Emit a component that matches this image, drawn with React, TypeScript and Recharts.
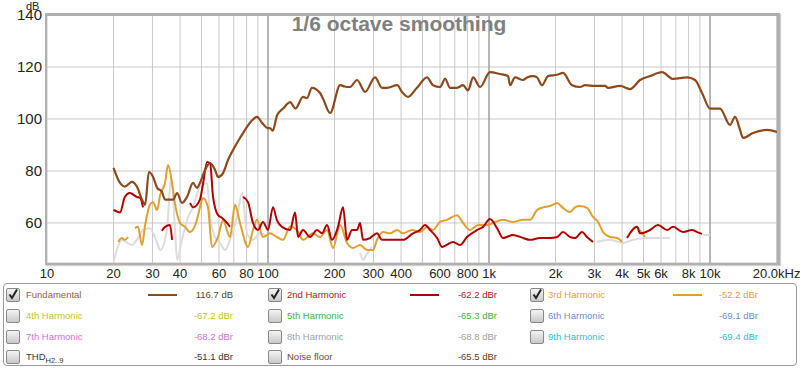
import React from 'react';
import { LineChart, Line, XAxis, YAxis, CartesianGrid, ReferenceLine } from 'recharts';

// Frequencies (Hz) and levels (dB)
const fundFreq = [20, 21.4, 22.5, 24.2, 25.5, 26.9, 27.8, 28.9, 30.2, 31.5, 33.1, 34.2, 37.2, 38.8, 40.8, 43.0, 45.8, 47.7, 49.2, 51.9, 54.7, 57.6, 59.4, 62.6, 65.9, 69.4, 74.7, 80.4, 84.7, 89.2, 94, 100, 102, 105, 110, 117, 126, 133, 144, 150, 158, 172, 177, 191, 212, 222, 235, 253, 275, 305, 328, 346, 384, 404, 430, 472, 524, 558, 600, 633, 666, 717, 763, 804, 847, 911, 1010, 1121, 1219, 1245, 1311, 1425, 1486, 1582, 1649, 1737, 1849, 2032, 2161, 2375, 2581, 2719, 3017, 3349, 3455, 3915, 4345, 4824, 5351, 6065, 6803, 7869, 8553, 9202, 10000, 11096, 12315, 12978, 13670, 14105, 15655, 18113, 20106];
const fundDb = [81.2, 75.4, 74, 75.8, 74, 69, 67, 79.6, 77.7, 73.5, 72, 69, 69, 71.5, 67.7, 70, 75.4, 73.5, 75.4, 80.4, 83, 80.4, 77.7, 79.2, 84.2, 88, 92.7, 97, 99.5, 100.8, 98.5, 96.5, 96.5, 95.5, 101.5, 104, 106.5, 104, 108.5, 108, 112, 110, 108, 102.3, 113, 112.5, 112.3, 115, 110.4, 116, 112, 112, 113, 110.4, 108.5, 112, 116, 113, 112.3, 115.4, 112, 112, 113, 111, 116, 112.3, 118, 117.3, 116.5, 113, 116, 115, 116, 116.5, 116, 113, 116.5, 117, 117.7, 113, 112.3, 113, 112.7, 112.7, 112, 112.7, 111.5, 115, 116.5, 118, 115.4, 116, 115, 110, 104, 104, 97.7, 100.8, 95.8, 92.7, 94.6, 95.8, 95];

const h2Freq = [20, 21.4, 22.5, 23.7, 25.5, 26.4, 27.2, 30, 33.1, 34.2, 36, 36.8, 40, 44.4, 45.8, 49.2, 50.8, 53, 54.7, 56.4, 59.4, 61.9, 65.2, 67.3, 72, 77.1, 81.2, 85.5, 90.1, 94.9, 100, 105.3, 109.8, 115.7, 125.8, 132.6, 136.7, 144, 154.9, 166.7, 175.5, 184.9, 194.9, 207.4, 218.5, 227.8, 239.9, 252.7, 260.9, 269.1, 289.4, 311.3, 328, 356.5, 408, 453, 487, 513, 541, 582, 613, 687, 739, 795, 883, 940, 1010, 1087, 1157, 1284, 1425, 1533, 1701, 1888, 2032, 2161, 2326, 2449, 2635, 2775, 2955, 3500, 4211, 4675, 4824, 5351, 5817, 6389, 6803, 7548, 8293, 8735, 9202];
const h2Db = [65, 64, 70, 71.5, 70, 69.6, 66, null, 57, 58.5, 59.2, 53.5, null, 67.7, 66, 69, 75, 83.5, 83, 70, 63, 62, 60, 58.5, null, 70, 68, 60, 57.3, 60.4, 57.3, 66, 61, 58.5, 57.3, 64, 54.6, 57.3, 54.6, 57.3, 56, 59.2, 53.5, 58.5, 66, 53.5, 57.3, 57.3, 60, 53.5, 54.2, 56, 53.5, 53.5, 53.5, 56, 57.3, 59.2, 57.3, 54.2, 50.8, 52.7, 51.5, 54.6, 57.3, 58.5, 61.5, 58, 54.2, 55.4, 54.2, 53.5, 54.2, 54.2, 54.6, 56.5, 54.6, 54.2, 56.5, 54.6, 52.7, null, 54.2, 58.5, 56, 57.3, 59.2, 57.3, 58.5, 56.5, 57.3, 56.5, 55.8];

const h3Freq = [21, 21.8, 22.5, 23.3, 24.2, 25, 25.8, 26.9, 27.8, 29.2, 30.2, 31.5, 32.5, 34.2, 35.3, 36.8, 37.9, 40, 42.1, 44.4, 47.7, 49.2, 50.8, 53.5, 55.8, 59.4, 62.6, 67.3, 70.9, 74.7, 81.2, 85.5, 89.2, 94.9, 102, 109.8, 116.9, 125.8, 135.3, 144, 159.8, 172, 184.9, 196.9, 211.8, 227.8, 242.4, 260.9, 280.5, 298.6, 311.3, 331.4, 356.5, 383.6, 408.3, 448.4, 487.4, 524.3, 558, 600, 645.6, 716.5, 762.6, 820, 892, 980, 1043, 1157, 1284, 1425, 1533, 1649, 1756, 1888, 2032, 2161, 2326, 2449, 2581, 2775, 2955, 3113, 3280, 3528, 3795, 3998, 4400, 4675, 5080];
const h3Db = [52.7, 54.2, 53.5, 54.6, null, 58, 58.5, 51.5, 59.2, 67, 68, 65, 70.8, 75.4, 82.3, 75.4, 67.7, 60, 58.5, 56.5, 61.2, 66, 69.6, 66, 50.8, 54.6, 61, 54.6, 67, 60, 50.8, 57.3, 61.2, 54.6, 56, 54.6, 53.5, 58.5, 57.3, 53.5, 56, 54.6, 57.3, 50.4, 59.2, 52.3, 50.4, 51.5, 49.6, 49.6, 53.5, 56.5, 56, 57.3, 56, 57.3, 56.5, 58.5, 57.3, 60.4, 61.2, 63, 60, 57.3, 59.2, 59.2, 60, 61.2, 60.4, 61.2, 61.2, 65, 66, 66.5, 67.7, 65.8, 64.2, 66, 66.5, 65.8, 62.3, 60.4, 56.5, 54.6, 54.2, 52.7, null, 58.5, 54.6];

const fadedFreq = [20, 20.7, 21.8, 24.2, 25.5, 27.2, 29.2, 31.5, 32.5, 34.9, 36.4, 37.9, 38.8, 40.8, 43.5, 45.8, 49.2, 53, 54.7, 57.6, 60.7, 63.9, 67.3, 72.4, 76.3, 80.4, 85.5, 92, 99, 104, 260.9, 269.1, 280, 295.5, 1000, 3080, 3528, 4040, 4483, 5187, 5757, 6592, 8000, 9297, 10000];
const fadedDb = [45, 49.6, 53.5, 51.5, 53.5, 57.3, 58, 52.3, 49.6, 57.3, 77.7, 58.5, 45.8, 53.5, 62.3, 66, 74, 75.4, 62.3, 54.6, 52.3, 49.6, 53.5, 62.3, 71.5, 56, 53.5, 56, 54.6, null, 48.5, 45.8, 48, 50.8, null, 52.7, 53.5, 52.3, 53.5, 54.2, 54.2, 54.2, null, 55.4, 55.4];

const xTicks = [10, 20, 30, 40, 50, 60, 70, 80, 90, 100, 200, 300, 400, 500, 600, 700, 800, 900, 1000, 2000, 3000, 4000, 5000, 6000, 7000, 8000, 9000, 10000, 20000];
const xTickLabels = ['10', '20', '30', '40', '', '60', '', '80', '', '100', '200', '300', '400', '', '600', '', '800', '', '1k', '2k', '3k', '4k', '5k', '6k', '', '8k', '', '10k', '20.0kHz'];
const yTicks = [60, 80, 100, 120, 140];

const legendRows = [
  [
    { name: 'Fundamental', value: '116.7 dB', color: '#94603c', vcolor: '#5a3e2a', checked: true, line: '#8c4a1c' },
    { name: '2nd Harmonic', value: '-62.2 dBr', color: '#a82020', vcolor: '#a82020', checked: true, line: '#b00000' },
    { name: '3rd Harmonic', value: '-52.2 dBr', color: '#e0a040', vcolor: '#e0a040', checked: true, line: '#e0a030' },
  ],
  [
    { name: '4th Harmonic', value: '-67.2 dBr', color: '#c8c030', vcolor: '#c8c030', checked: false },
    { name: '5th Harmonic', value: '-65.3 dBr', color: '#40b040', vcolor: '#40b040', checked: false },
    { name: '6th Harmonic', value: '-69.1 dBr', color: '#6a90d0', vcolor: '#6a90d0', checked: false },
  ],
  [
    { name: '7th Harmonic', value: '-68.2 dBr', color: '#d070d8', vcolor: '#d070d8', checked: false },
    { name: '8th Harmonic', value: '-68.8 dBr', color: '#a0a0a0', vcolor: '#a0a0a0', checked: false },
    { name: '9th Harmonic', value: '-69.4 dBr', color: '#30c0d0', vcolor: '#30c0d0', checked: false },
  ],
  [
    { name: 'THD', value: '-51.1 dBr', color: '#333333', vcolor: '#333333', checked: false },
    { name: 'Noise floor', value: '-65.5 dBr', color: '#6b4a30', vcolor: '#5a3a20', checked: false },
  ],
];

const toPts = (fs: number[], vs: (number | null)[]) => fs.map((f, i) => ({ f, v: vs[i] }));
const fund = toPts(fundFreq, fundDb);
const h2 = toPts(h2Freq, h2Db);
const h3 = toPts(h3Freq, h3Db);
const faded = toPts(fadedFreq, fadedDb);

const font = '"Liberation Sans", Arial, sans-serif';

const Checkbox = ({ checked }: { checked: boolean }) => (
  <div style={{ position: 'absolute', width: 12, height: 12, border: '1px solid #888', borderRadius: 2, background: 'linear-gradient(#f4f4f4, #c8c8c8)' }}>
    {checked && (
      <svg width="12" height="12" style={{ position: 'absolute', left: 0, top: -1 }}>
        <path d="M2.5 6.5 L5 10 L10 1.5" stroke="#222" strokeWidth="2" fill="none" />
      </svg>
    )}
  </div>
);

const colX = [6, 268, 530];
const labelX = [26, 287, 548];
const lineX = [148, 410, 673];
const valRight = [233, 497, 758];
const rowY = [295, 316, 337, 357];

export default function App() {
  return (
    <div style={{ position: 'absolute', left: 0, top: 0, width: 800, height: 370, background: '#fff', fontFamily: font }}>
      <LineChart width={800} height={290} margin={{ top: 15, right: 22, bottom: 0, left: 0 }}>
        <CartesianGrid stroke="#c8c8c8" strokeWidth={1} />
        <XAxis
          dataKey="f"
          type="number"
          scale="log"
          domain={[10, 20300]}
          allowDataOverflow
          ticks={xTicks}
          tickFormatter={(v: number) => xTickLabels[xTicks.indexOf(v)] ?? ''}
          tickLine={false}
          axisLine={false}
          tickSize={0}
          tickMargin={6}
          height={27}
          interval={0}
          tick={{ fill: '#222', fontSize: 13, fontFamily: font }}
        />
        <YAxis
          type="number"
          domain={[44.6, 140]}
          allowDataOverflow
          ticks={yTicks}
          width={47}
          tickLine={false}
          axisLine={false}
          tickSize={0}
          tickMargin={5}
          interval={0}
          tick={{ fill: '#222', fontSize: 15, fontFamily: font }}
        />
        <ReferenceLine x={100} stroke="#8a8a8a" strokeWidth={1} />
        <ReferenceLine x={1000} stroke="#8a8a8a" strokeWidth={1} />
        <ReferenceLine x={10000} stroke="#8a8a8a" strokeWidth={1} />
        <Line data={faded} dataKey="v" type="monotone" stroke="#dcdcdc" strokeWidth={2} dot={false} isAnimationActive={false} connectNulls={false} />
        <Line data={h3} dataKey="v" type="monotone" stroke="#e0a030" strokeWidth={2} dot={false} isAnimationActive={false} connectNulls={false} />
        <Line data={h2} dataKey="v" type="monotone" stroke="#b00000" strokeWidth={2} dot={false} isAnimationActive={false} connectNulls={false} />
        <Line data={fund} dataKey="v" type="monotone" stroke="#8c4a1c" strokeWidth={2.2} dot={false} isAnimationActive={false} />
      </LineChart>

      {/* plot frame */}
      <div style={{ position: 'absolute', left: 45, top: 13, width: 735, height: 252, boxSizing: 'border-box', border: '2px solid #b0b0b0', borderTopWidth: 3, borderRightWidth: 3, boxShadow: '1px 1px 1px #d0d0d0', pointerEvents: 'none' }} />

      <div style={{ position: 'absolute', left: 26, top: 1, fontSize: 11, lineHeight: '11px', color: '#222' }}>dB</div>
      <div style={{ position: 'absolute', left: 0, width: 798, top: 12, textAlign: 'center', fontSize: 21, fontWeight: 'bold', color: '#808080' }}>1/6 octave smoothing</div>

      {/* legend */}
      <div style={{ position: 'absolute', left: 3, top: 283, width: 794, height: 83, boxSizing: 'border-box', border: '1px solid #999', borderRadius: 4 }} />
      {legendRows.map((row, r) =>
        row.map((it: any, c) => (
          <React.Fragment key={`${r}-${c}`}>
            <div style={{ position: 'absolute', left: colX[c], top: rowY[r] - 7 }}>
              <Checkbox checked={it.checked} />
            </div>
            <div style={{ position: 'absolute', left: labelX[c], top: rowY[r] - 6, fontSize: 9.5, color: it.color, whiteSpace: 'nowrap' }}>
              {it.name === 'THD' ? (
                <span style={{ color: '#333' }}>THD<sub style={{ fontSize: 7.5 }}>H2..9</sub></span>
              ) : it.name}
            </div>
            {it.line && (
              <div style={{ position: 'absolute', left: lineX[c], top: rowY[r] - 1, width: 29, height: 2, background: it.line }} />
            )}
            <div style={{ position: 'absolute', left: valRight[c] - 70, width: 70, textAlign: 'right', top: rowY[r] - 6, fontSize: 9.5, color: it.vcolor, whiteSpace: 'nowrap' }}>
              {it.value}
            </div>
          </React.Fragment>
        ))
      )}
    </div>
  );
}
